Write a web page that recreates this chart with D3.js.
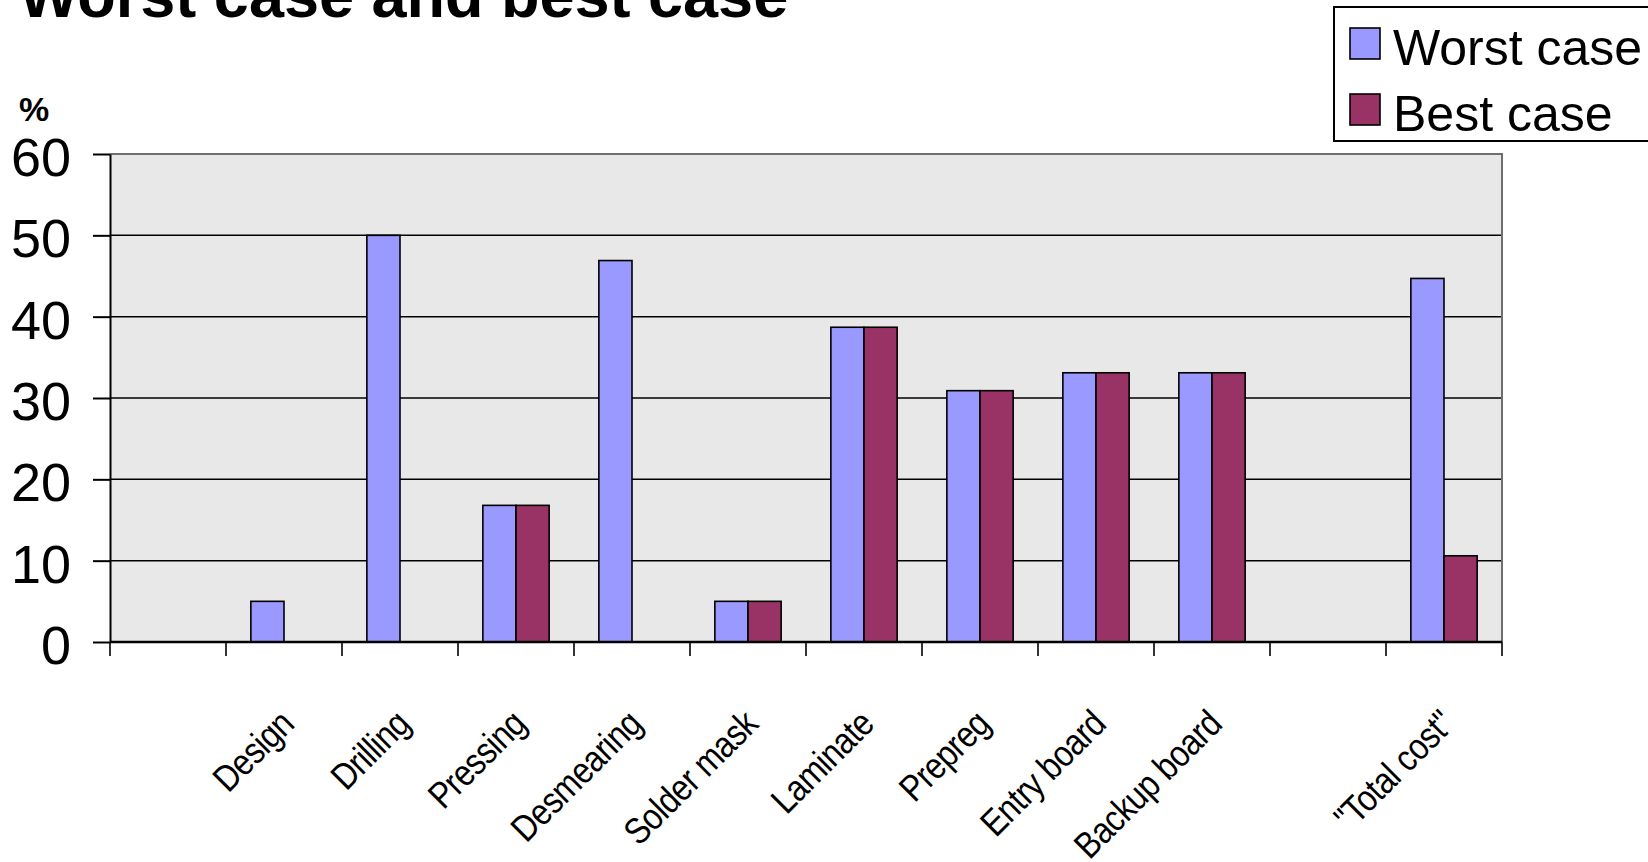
<!DOCTYPE html>
<html>
<head>
<meta charset="utf-8">
<script src="https://cdn.jsdelivr.net/npm/d3@7"></script>
<style>
  html, body { margin: 0; padding: 0; background: #ffffff; overflow: hidden; }
  svg { display: block; font-family: "Liberation Sans", Arial, sans-serif; }
</style>
</head>
<body>
<svg id="chart" width="1648" height="862"></svg>
<script>
// Cost reduction per process step, worst case vs best case (%)
const categories = ["", "Design", "Drilling", "Pressing", "Desmearing", "Solder mask",
                    "Laminate", "Prepreg", "Entry board", "Backup board", "", "\"Total cost\""];
const worstCase = [null, 5, 50, 16.8, 46.9, 5, 38.7, 30.9, 33.1, 33.1, null, 44.7];
const bestCase  = [null, null, null, 16.8, null, 5, 38.7, 30.9, 33.1, 33.1, null, 10.6];
const seriesNames = ["Worst case", "Best case"];
const yTicks = [0, 10, 20, 30, 40, 50, 60];

const colors = { "Worst case": "#9999ff", "Best case": "#993366" };

const svg = d3.select("#chart");
const plot = { left: 110, right: 1502, top: 154, bottom: 642 };

const x = d3.scaleBand()
  .domain(d3.range(categories.length))
  .range([plot.left, plot.right])
  .padding(0);

// gap width 150% of a bar on each category
const bw = x.bandwidth();
const gap = bw * 1.5 / 3.5 / 2;
const x1 = d3.scaleBand().domain(seriesNames).range([gap, bw - gap]).padding(0);

const y = d3.scaleLinear().domain([0, 60]).range([plot.bottom, plot.top]);

// title and unit
svg.append("text")
  .attr("x", 19).attr("y", 17)
  .attr("font-size", 63).attr("font-weight", "bold")
  .text("Worst case and best case");

svg.append("text")
  .attr("x", 19).attr("y", 121)
  .attr("font-size", 34).attr("font-weight", "bold")
  .text("%");

// plot area background
svg.append("rect")
  .attr("x", plot.left).attr("y", plot.top)
  .attr("width", plot.right - plot.left).attr("height", plot.bottom - plot.top)
  .attr("fill", "#e8e8e8");

// horizontal gridlines
svg.append("g")
  .selectAll("line")
  .data(yTicks.filter(t => t > 0 && t < 60))
  .join("line")
  .attr("x1", plot.left).attr("x2", plot.right)
  .attr("y1", d => y(d)).attr("y2", d => y(d))
  .attr("stroke", "#000").attr("stroke-width", 1.5);

// plot area border (top and right)
svg.append("path")
  .attr("d", `M${plot.left},${y(60)}H${plot.right}V${plot.bottom}`)
  .attr("fill", "none").attr("stroke", "#6e6e6e").attr("stroke-width", 2);

// bars
const rows = categories.map((c, i) => ({ i, values: [
  { key: "Worst case", v: worstCase[i] },
  { key: "Best case", v: bestCase[i] }
]}));

svg.append("g")
  .selectAll("g")
  .data(rows)
  .join("g")
  .attr("transform", d => `translate(${x(d.i)},0)`)
  .selectAll("rect")
  .data(d => d.values.filter(e => e.v != null))
  .join("rect")
  .attr("x", e => x1(e.key))
  .attr("width", x1.bandwidth())
  .attr("y", e => y(e.v))
  .attr("height", e => y(0) - y(e.v))
  .attr("fill", e => colors[e.key])
  .attr("stroke", "#000").attr("stroke-width", 1.6);

// y axis
const yAxis = svg.append("g")
  .attr("transform", `translate(${plot.left},0)`)
  .call(d3.axisLeft(y).tickValues(yTicks).tickSize(17).tickPadding(22).tickSizeOuter(0));
yAxis.select(".domain").attr("stroke", "#000").attr("stroke-width", 2);
yAxis.selectAll(".tick line").attr("stroke", "#000").attr("stroke-width", 2);
yAxis.selectAll(".tick text")
  .attr("font-size", 54).attr("font-family", "Liberation Sans, Arial, sans-serif")
  .attr("fill", "#000").attr("dy", "0.4em");

// x axis: ticks on category boundaries
const xEdges = d3.range(categories.length + 1).map(i =>
  i < categories.length ? x(i) : x(categories.length - 1) + bw);
const xAxisG = svg.append("g");
xAxisG.append("line")
  .attr("x1", plot.left).attr("x2", plot.right)
  .attr("y1", y(0)).attr("y2", y(0))
  .attr("stroke", "#000").attr("stroke-width", 2.5);
xAxisG.selectAll("line.tick")
  .data(xEdges)
  .join("line")
  .attr("class", "tick")
  .attr("x1", d => d).attr("x2", d => d)
  .attr("y1", y(0)).attr("y2", y(0) + 14)
  .attr("stroke", "#000").attr("stroke-width", 1.6);

// rotated category labels (narrow, tall lettering)
xAxisG.selectAll("text")
  .data(rows.filter(d => categories[d.i] !== ""))
  .join("text")
  .attr("transform", d => `translate(${x(d.i) + bw / 2 + 12},${y(0) + 84}) rotate(-45) scale(0.86,1)`)
  .attr("text-anchor", "end")
  .attr("font-size", 37)
  .attr("letter-spacing", -0.6)
  .text(d => categories[d.i]);

// legend
const legend = svg.append("g");
legend.append("rect")
  .attr("x", 1334).attr("y", 7).attr("width", 340).attr("height", 134)
  .attr("fill", "#fff").attr("stroke", "#000").attr("stroke-width", 2);
const li = legend.selectAll("g.item")
  .data(seriesNames)
  .join("g")
  .attr("class", "item")
  .attr("transform", (d, i) => `translate(1350,${28 + i * 66})`);
li.append("rect")
  .attr("width", 30).attr("height", 31)
  .attr("fill", d => colors[d])
  .attr("stroke", "#000").attr("stroke-width", 1.6);
li.append("text")
  .attr("x", 43).attr("y", 37)
  .attr("font-size", 50)
  .text(d => d);
</script>
</body>
</html>
